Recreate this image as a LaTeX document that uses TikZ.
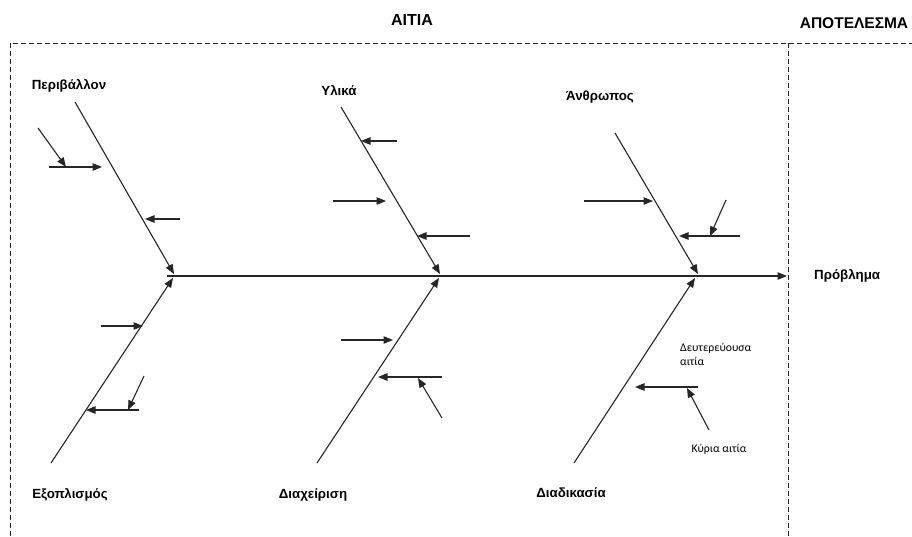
\documentclass[tikz,border=0pt]{standalone}
\usepackage{fontspec}
\setmainfont{Liberation Sans}
\newfontfamily\notefont{Carlito}
\usetikzlibrary{arrows.meta}
\begin{document}
\begin{tikzpicture}[x=1pt,y=-1pt,
  frame/.style={draw=black!85, line width=0.9pt, dash pattern=on 5pt off 3pt},
  bone/.style={draw=black!85, line width=1.1pt, -{Triangle[length=9.5pt,width=7.5pt]}},
  sub/.style={draw=black!85, line width=1.1pt, -{Triangle[length=9.5pt,width=7.5pt]}},
  title/.style={font=\bfseries\fontsize{16}{18}\selectfont, inner sep=0pt},
  cat/.style={font=\bfseries\fontsize{13.3}{15}\selectfont, inner sep=0pt},
  note/.style={font=\notefont\fontsize{11.7}{14}\selectfont, inner sep=0pt, align=left}]
\useasboundingbox (0,0) rectangle (912,536);
\fill[white] (0,0) rectangle (912,536);

% frame: causes area and result area
\coordinate (fBL) at (10,536);
\coordinate (fTL) at (10,43);
\coordinate (fTR) at (912,43);
\coordinate (dT) at (788,43);
\coordinate (dB) at (788,536);
\draw[frame] (fBL) -- (fTL) -- (fTR);
\draw[frame] (dT) -- (dB);

% headings
\node[title] (aitia) at (412,20) {ΑΙΤΙΑ};
\node[title, font=\bfseries\fontsize{15.5}{18}\selectfont] (apotelesma) at (854,23) {ΑΠΟΤΕΛΕΣΜΑ};

% spine
\coordinate (s0) at (167,276);
\coordinate (s1) at (787,276);
\draw[bone] (s0) -- (s1);
\node[cat, anchor=west] (problem) at (814,276) {Πρόβλημα};

% main bones
\coordinate (b1s) at (75,102);  \coordinate (b1e) at (174,274);
\coordinate (b2s) at (341,107); \coordinate (b2e) at (440,274);
\coordinate (b3s) at (615,133); \coordinate (b3e) at (698,274);
\coordinate (b4s) at (51,463);  \coordinate (b4e) at (173,278);
\coordinate (b5s) at (317,463); \coordinate (b5e) at (439,278);
\coordinate (b6s) at (574,463); \coordinate (b6e) at (695,278);
\foreach \i in {1,...,6} \draw[bone] (b\i s) -- (b\i e);

\node[cat] (env) at (69,86) {Περιβάλλον};
\node[cat] (mat) at (339,91) {Υλικά};
\node[cat] (man) at (600,97) {Άνθρωπος};
\node[cat] (equ) at (70,495) {Εξοπλισμός};
\node[cat] (mgt) at (313,495) {Διαχείριση};
\node[cat] (proc) at (571,493) {Διαδικασία};

% secondary arrows: environment
\coordinate (e1a) at (49,167);  \coordinate (e1b) at (102,167);
\coordinate (e2a) at (38,128);  \coordinate (e2b) at (66,167);
\coordinate (e3a) at (180,219); \coordinate (e3b) at (145,219);
% materials
\coordinate (m1a) at (397,141); \coordinate (m1b) at (361,141);
\coordinate (m2a) at (333,201); \coordinate (m2b) at (386,201);
\coordinate (m3a) at (470,236); \coordinate (m3b) at (417,236);
% people
\coordinate (p1a) at (584,201); \coordinate (p1b) at (653,201);
\coordinate (p2a) at (740,236); \coordinate (p2b) at (679,236);
\coordinate (p3a) at (726,200); \coordinate (p3b) at (710,236);
% equipment
\coordinate (q1a) at (101,326); \coordinate (q1b) at (143,326);
\coordinate (q2a) at (139,410); \coordinate (q2b) at (86,410);
\coordinate (q3a) at (144,376); \coordinate (q3b) at (128,410);
% management
\coordinate (g1a) at (341,340); \coordinate (g1b) at (393,340);
\coordinate (g2a) at (442,377); \coordinate (g2b) at (378,377);
\coordinate (g3a) at (442,418); \coordinate (g3b) at (418,378);
% process
\coordinate (r1a) at (698,387); \coordinate (r1b) at (635,387);
\coordinate (r2a) at (709,430); \coordinate (r2b) at (687,388);

\foreach \p in {e1,e2,e3,m1,m2,m3,p1,p2,p3,q1,q2,q3,g1,g2,g3,r1,r2}
  \draw[sub] (\p a) -- (\p b);

% legend
\node[note, anchor=west] (second) at (680,354) {Δευτερεύουσα\\αιτία};
\node[note] (primary) at (719,449) {Κύρια αιτία};
\end{tikzpicture}
\end{document}
